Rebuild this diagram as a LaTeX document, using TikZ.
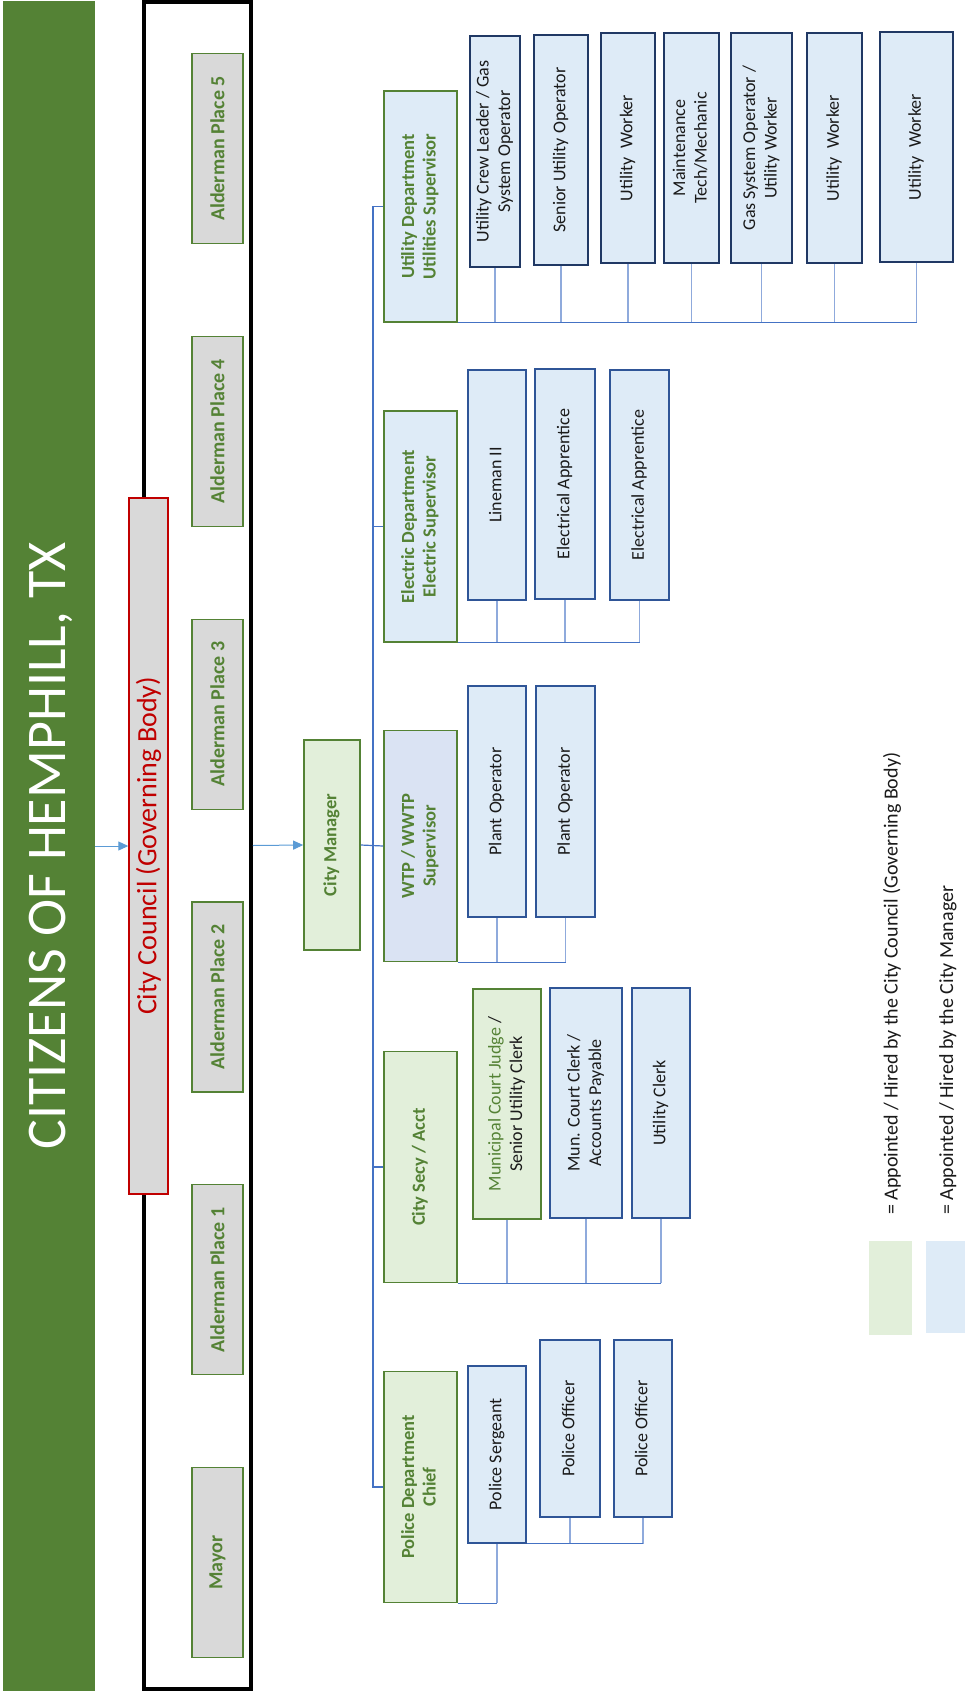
\documentclass[tikz,border=0pt]{standalone}
\usepackage{fontspec}
\setmainfont{Carlito}
\usetikzlibrary{arrows.meta,calc}
\definecolor{barG}{HTML}{548235}
\definecolor{txG}{HTML}{548235}
\definecolor{lgG}{HTML}{E2EFDA}
\definecolor{lgB}{HTML}{DEEBF7}
\definecolor{lgBB}{HTML}{DAE3F3}
\definecolor{gry}{HTML}{D9D9D9}
\definecolor{dred}{HTML}{C00000}
\definecolor{nav}{HTML}{2F5597}
\definecolor{navd}{HTML}{203864}
\definecolor{cn}{HTML}{4472C4}
\definecolor{cnl}{HTML}{8FAADC}
\definecolor{arrc}{HTML}{5B9BD5}
\definecolor{subtx}{HTML}{1A1A1A}
\newcommand\vtext[1]{\rotatebox{90}{\begin{tabular}{@{}c@{}}#1\end{tabular}}}
\tikzset{
  sup/.style={draw=txG, line width=1.6pt, fill=lgB, text=txG, inner sep=0pt,
    font=\fontsize{18.5}{21.5}\selectfont\bfseries, minimum width=73, minimum height=231},
  subb/.style={draw=nav, line width=1.6pt, fill=lgB, text=subtx, inner sep=0pt,
    font=\fontsize{18}{21.5}\selectfont, minimum height=230},
  ald/.style={draw=txG, line width=1.2pt, fill=gry, text=txG, inner sep=0pt,
    font=\fontsize{20}{24}\selectfont\bfseries, minimum width=51, minimum height=190},
  conn/.style={draw=cn, line width=1.2pt},
  drop/.style={draw=cnl, line width=1.5pt},
  arr/.style={draw=arrc, line width=1pt, -{Triangle[length=10pt,width=9pt]}},
  legtext/.style={inner sep=0pt, anchor=south, text=subtx, font=\fontsize{20}{24}\selectfont}
}
\begin{document}
\begin{tikzpicture}[x=1pt,y=-1pt]
\useasboundingbox (0,0) rectangle (965,1694);
% left bar and title
\node[fill=barG, inner sep=0pt, minimum width=92, minimum height=1690] (bar) at (49,846) {};
\node[text=white, inner sep=0pt, font=\fontsize{56}{64}\selectfont] (title) at (51,846) {\rotatebox{90}{CITIZENS OF HEMPHILL, TX}};
% council frame
\node[draw=black, line width=3.5pt, inner sep=0pt, minimum width=107, minimum height=1687] (frame) at (197.5,845.5) {};
\node[draw=dred, line width=1.4pt, fill=gry, text=dred, inner sep=0pt, minimum width=39, minimum height=696,
  font=\fontsize{28}{32}\selectfont] (council) at (148.5,846) {\rotatebox{90}{City Council (Governing Body)}};
\node[ald] (a5) at (217.5,148.5) {\rotatebox{90}{Alderman Place 5}};
\node[ald] (a4) at (217.5,431.3) {\rotatebox{90}{Alderman Place 4}};
\node[ald] (a3) at (217.5,714.1) {\rotatebox{90}{Alderman Place 3}};
\node[ald] (a2) at (217.5,996.9) {\rotatebox{90}{Alderman Place 2}};
\node[ald] (a1) at (217.5,1279.7) {\rotatebox{90}{Alderman Place 1}};
\node[ald] (mayor) at (217.5,1562.5) {\rotatebox{90}{Mayor}};
% city manager
\node[sup, fill=lgG, minimum width=56, minimum height=210] (cm) at (332,845) {\vtext{City Manager}};
\draw[arr] (bar.east) -- (council.west);
\draw[arr] (frame.east) -- (cm.west);
% supervisors
\node[sup] (util) at (420.5,206.5) {\vtext{Utility Department\\Utilities Supervisor}};
\node[sup] (elec) at (420.5,526.5) {\vtext{Electric Department\\Electric Supervisor}};
\node[sup, fill=lgBB] (wtp) at (420.5,846) {\vtext{WTP / WWTP\\Supervisor}};
\node[sup, fill=lgG] (secy) at (420.5,1167) {\vtext{City Secy / Acct}};
\node[sup, fill=lgG] (police) at (420.5,1487) {\vtext{Police Department\\Chief}};
% trunk
\coordinate (tr) at (373,0);
\draw[conn] (util.west) -- (util.west -| tr) -- (police.west -| tr) -- (police.west);
\draw[conn] (elec.west -| tr) -- (elec.west);
\draw[conn] (secy.west -| tr) -- (secy.west);
\draw[conn] (cm.east) -- (wtp.west);
% utility staff
\node[subb, draw=navd, minimum width=50, minimum height=231] (u1) at (495,151.5) {\vtext{Utility Crew Leader / Gas\\System Operator}};
\node[subb, draw=navd, minimum width=54] (u2) at (561,150) {\vtext{Senior Utility Operator}};
\node[subb, draw=navd, minimum width=54] (u3) at (628,148) {\vtext{Utility\ \ Worker}};
\node[subb, draw=navd, minimum width=55] (u4) at (691.5,148) {\vtext{Maintenance\\Tech/Mechanic}};
\node[subb, draw=navd, minimum width=61] (u5) at (761.5,148) {\vtext{Gas System Operator /\\Utility Worker}};
\node[subb, draw=navd, minimum width=55] (u6) at (834.5,148) {\vtext{Utility\ \ Worker}};
\node[subb, draw=navd, minimum width=73] (u7) at (916.5,147) {\vtext{Utility\ \ Worker}};
\foreach \n in {u1,u2,u3,u4,u5,u6,u7}{\draw[drop] (\n.south) -- (\n.south |- util.south);}
\draw[conn] (util.south east) -- (u7.south |- util.south);
% electric staff
\node[subb, minimum width=58] (e1) at (497,485) {\vtext{Lineman II}};
\node[subb, minimum width=60] (e2) at (565,484) {\vtext{Electrical Apprentice}};
\node[subb, minimum width=59] (e3) at (639.5,485) {\vtext{Electrical Apprentice}};
\foreach \n in {e1,e2,e3}{\draw[drop] (\n.south) -- (\n.south |- elec.south);}
\draw[conn] (elec.south east) -- (e3.south |- elec.south);
% wtp staff
\node[subb, minimum width=58, minimum height=231] (w1) at (497,801.5) {\vtext{Plant Operator}};
\node[subb, minimum width=59, minimum height=231] (w2) at (565.5,801.5) {\vtext{Plant Operator}};
\foreach \n in {w1,w2}{\draw[drop] (\n.south) -- (\n.south |- wtp.south);}
\draw[conn] (wtp.south east) -- (w2.south |- wtp.south);
% secretary staff
\node[subb, draw=txG, fill=lgG, minimum width=68] (s1) at (507,1104) {\vtext{{\color{txG}Municipal Court Judge} /\\Senior Utility Clerk}};
\node[subb, minimum width=72] (s2) at (586,1103) {\vtext{Mun. Court Clerk /\\Accounts Payable}};
\node[subb, minimum width=58] (s3) at (661,1103) {\vtext{Utility Clerk}};
\foreach \n in {s1,s2,s3}{\draw[drop] (\n.south) -- (\n.south |- secy.south);}
\draw[conn] (secy.south east) -- (s3.south |- secy.south);
% police staff
\node[subb, minimum width=58, minimum height=177] (p1) at (497,1454.5) {\vtext{Police Sergeant}};
\node[subb, minimum width=60, minimum height=177] (p2) at (570,1428.5) {\vtext{Police Officer}};
\node[subb, minimum width=58, minimum height=177] (p3) at (643,1428.5) {\vtext{Police Officer}};
\draw[drop] (p1.south) -- (p1.south |- police.south);
\draw[conn] (police.south east) -- (p1.south |- police.south);
\foreach \n in {p2,p3}{\draw[drop] (\n.south) -- (\n.south |- p1.south);}
\draw[conn] (p1.south east) -- (p3.south |- p1.south);
% legend
\node[fill=lgG, inner sep=0pt, minimum width=43, minimum height=94] (legG) at (890.5,1288) {};
\node[fill=lgB, inner sep=0pt, minimum width=39, minimum height=92] (legB) at (945.5,1287) {};
\node[legtext] (lt1) at (892,1215) {\rotatebox{90}{= Appointed / Hired by the City Council (Governing Body)}};
\node[legtext] (lt2) at (948,1215) {\rotatebox{90}{= Appointed / Hired by the City Manager}};
\end{tikzpicture}
\end{document}
